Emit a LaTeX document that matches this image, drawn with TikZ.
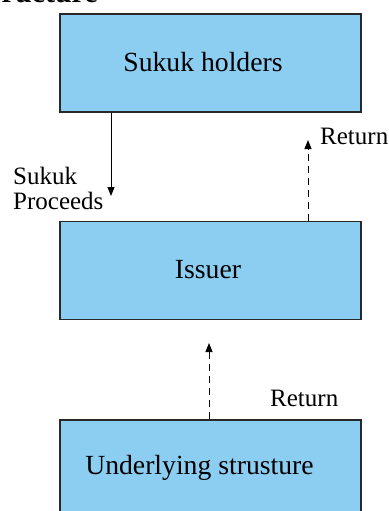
\documentclass[tikz,border=0pt]{standalone}
\usepackage{fontspec}
\setmainfont{Liberation Serif}
\usetikzlibrary{arrows.meta}
\definecolor{boxblue}{RGB}{140,205,242}
\definecolor{boxline}{RGB}{40,40,40}
\tikzset{
  blk/.style={draw=boxline, fill=boxblue, line width=1.2pt, minimum width=301pt, minimum height=98pt, inner sep=0pt, font=\fontsize{27.7}{33}\selectfont},
  lbl/.style={inner sep=0pt, anchor=base west, font=\fontsize{25}{25}\selectfont},
  flow/.style={line width=1pt, -{Triangle[length=9pt,width=7pt]}},
  flowd/.style={flow, dash pattern=on 7pt off 5pt}
}
\begin{document}
\begin{tikzpicture}[x=1pt,y=-1pt]
\useasboundingbox (0,0) rectangle (388,511);
\clip (0,0) rectangle (388,511);
\fill[white] (0,0) rectangle (388,511);
\node[inner sep=0pt, anchor=base east, font=\bfseries\fontsize{30}{30}\selectfont] (title) at (98,3) {ructure};
\node[blk] (holders) at (210.5,63) {};
\node[inner sep=0pt, font=\fontsize{27.7}{33}\selectfont] (tholders) at (203,62) {Sukuk holders};
\node[blk] (issuer) at (210.5,270.5) {};
\node[inner sep=0pt, font=\fontsize{27.7}{33}\selectfont] (tissuer) at (208,270) {Issuer};
\node[blk, minimum height=99pt] (under) at (210.5,469.5) {};
\node[inner sep=0pt, font=\fontsize{27.7}{33}\selectfont] (tunder) at (199.5,468) {Underlying strusture};
\coordinate (p1) at (111,196);
\coordinate (p2) at (308,140);
\coordinate (p3) at (209,343);
\draw[flow] (holders.south -| p1) -- (p1);
\draw[flowd] (issuer.north -| p2) -- (p2);
\draw[flowd] (under.north -| p3) -- (p3);
\node[lbl] (l1) at (13,184) {Sukuk};
\node[lbl] (l2) at (13,209) {Proceeds};
\node[lbl] (r1) at (320,144) {Return};
\node[lbl] (r2) at (270,406) {Return};
\end{tikzpicture}
\end{document}
